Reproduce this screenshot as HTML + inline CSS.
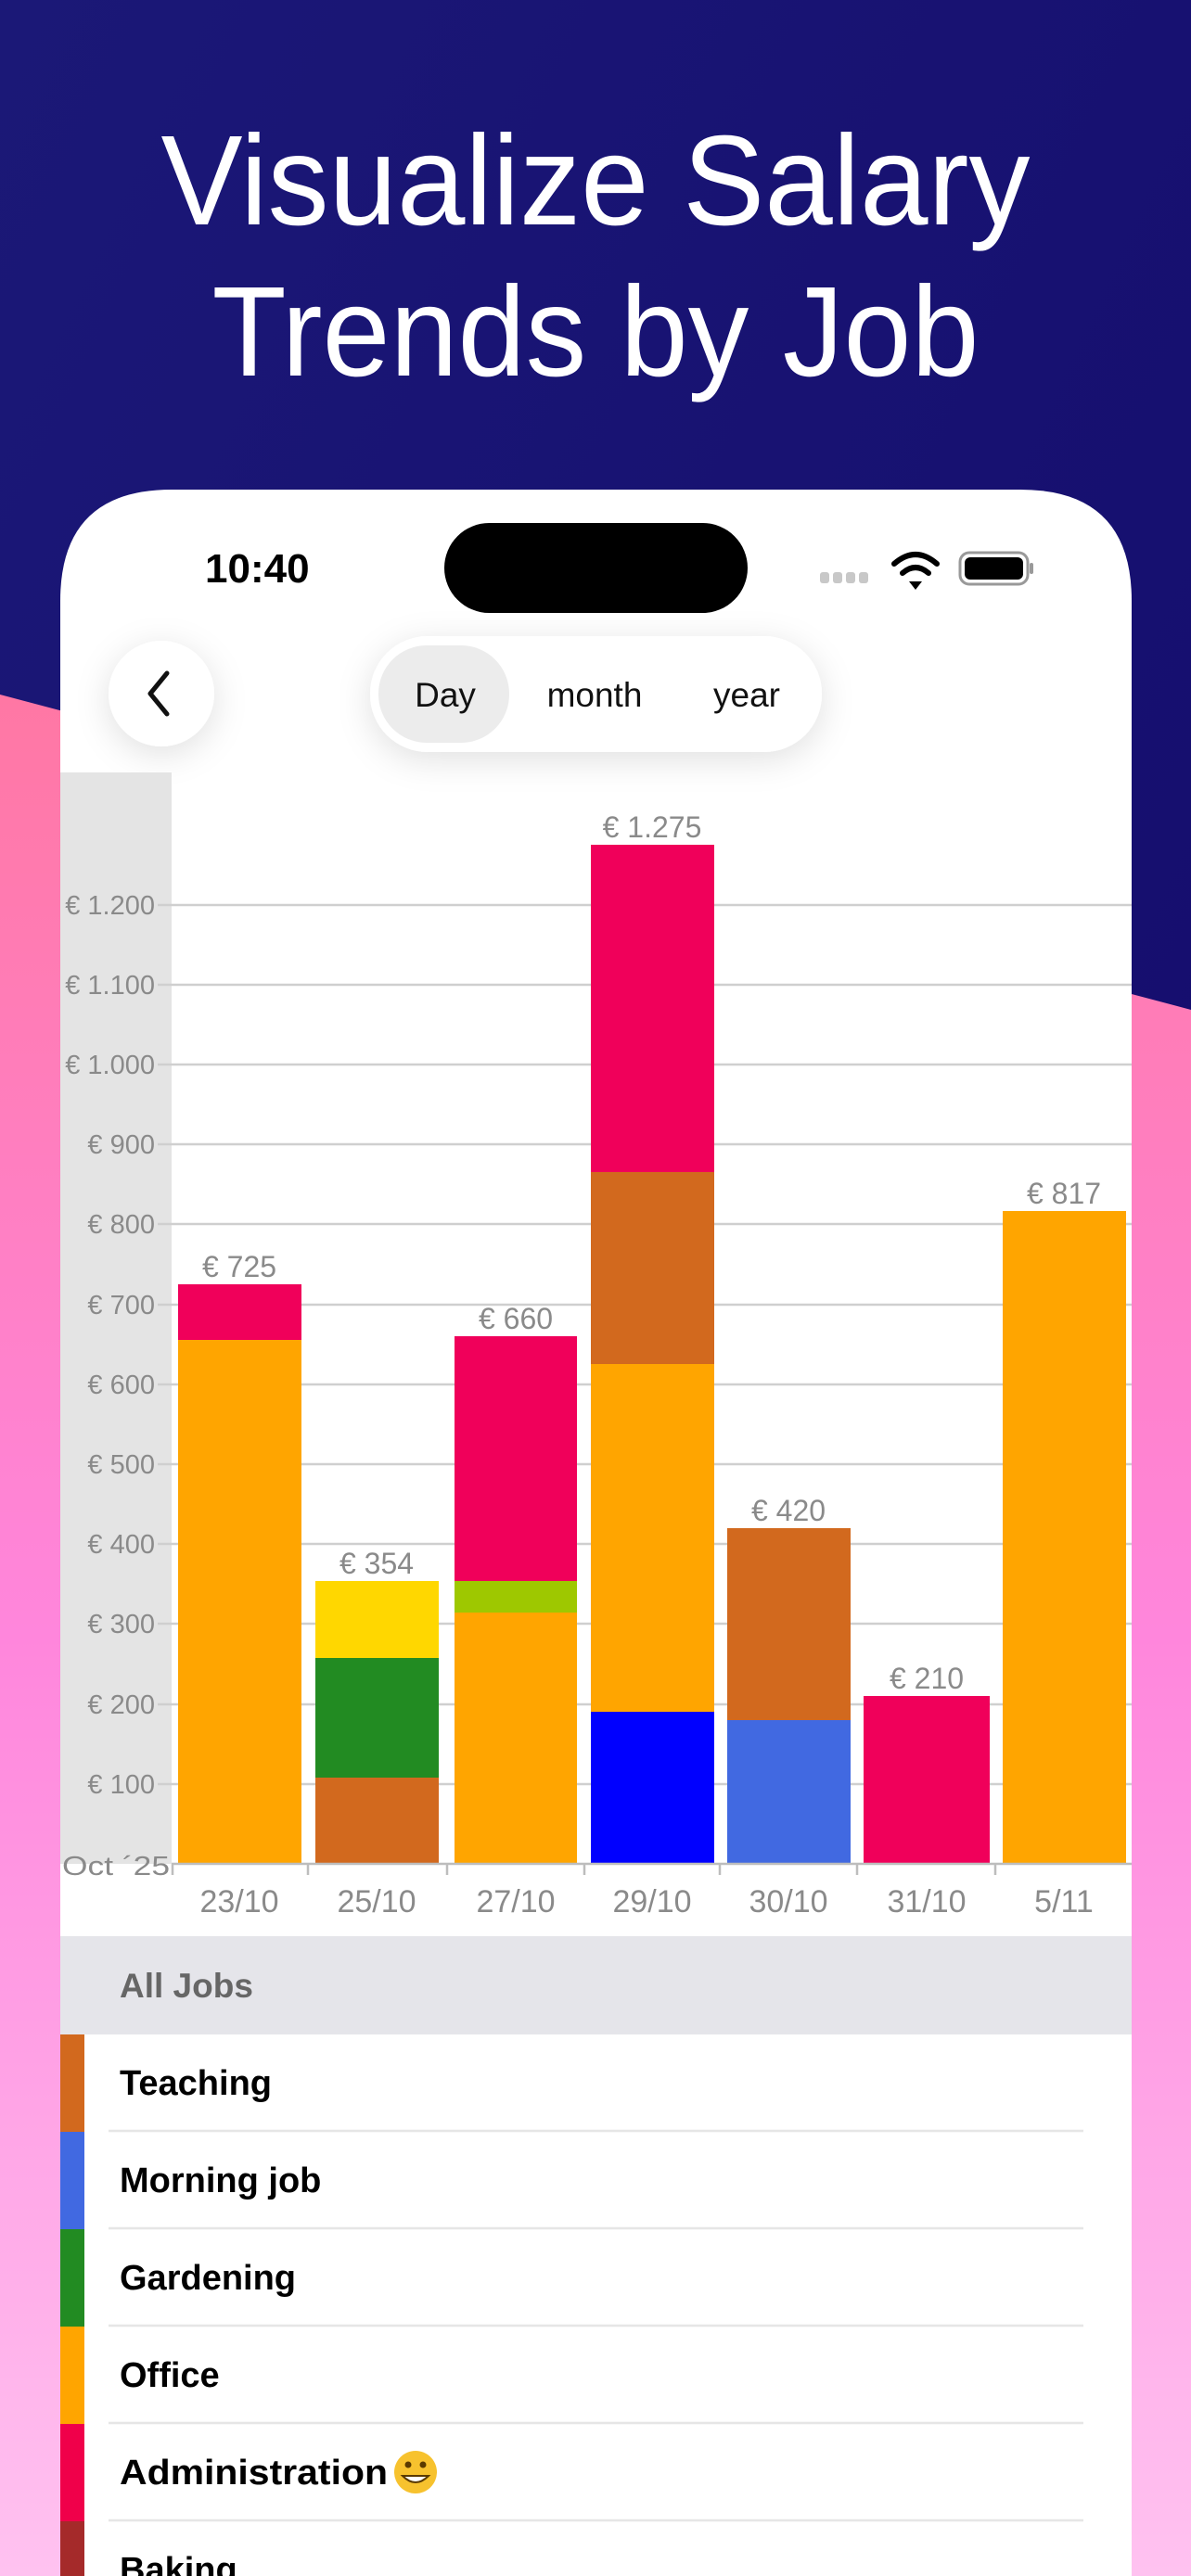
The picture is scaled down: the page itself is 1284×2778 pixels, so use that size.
<!DOCTYPE html>
<html><head><meta charset="utf-8">
<style>
html,body{margin:0;padding:0;width:1284px;height:2778px;overflow:hidden;}
svg{display:block;font-family:"Liberation Sans",sans-serif;}
</style></head>
<body>
<svg width="1284" height="2778" viewBox="0 0 1284 2778" xmlns="http://www.w3.org/2000/svg">
<defs>
<linearGradient id="navy" x1="0" y1="0" x2="1" y2="1"><stop offset="0" stop-color="#1b1877"/><stop offset="1" stop-color="#130a6b"/></linearGradient>
<linearGradient id="pink" x1="0" y1="0" x2="0" y2="1"><stop offset="0" stop-color="#ff77a4"/><stop offset="0.5" stop-color="#ff86dc"/><stop offset="1" stop-color="#ffc2f0"/></linearGradient>
<filter id="sh" x="-50%" y="-50%" width="200%" height="200%"><feDropShadow dx="0" dy="8" stdDeviation="18" flood-color="#000" flood-opacity="0.12"/></filter>
</defs>
<rect width="1284" height="2778" fill="url(#navy)"/>
<polygon points="0,749 1284,1089 1284,2778 0,2778" fill="url(#pink)"/>
<text x="642" y="242" fill="#fff" font-size="138" text-anchor="middle" textLength="937" lengthAdjust="spacingAndGlyphs">Visualize Salary</text>
<text x="642" y="405" fill="#fff" font-size="138" text-anchor="middle" textLength="827" lengthAdjust="spacingAndGlyphs">Trends by Job</text>

<path d="M65,2778 V648 Q65,528 185,528 H1100 Q1220,528 1220,648 V2778 Z" fill="#fff"/>
<text x="221" y="628" font-size="44" font-weight="bold" fill="#000">10:40</text>
<rect x="479" y="564" width="327" height="97" rx="48.5" fill="#000"/>
<g fill="#c8c8c8"><rect x="884" y="617" width="10" height="12" rx="3"/><rect x="898" y="617" width="10" height="12" rx="3"/><rect x="912" y="617" width="10" height="12" rx="3"/><rect x="926" y="617" width="10" height="12" rx="3"/></g>
<g fill="none" stroke="#000" stroke-width="6" stroke-linecap="round">
<path d="M964,608 Q987,588 1010,608"/><path d="M973,618 Q987,606 1001,618"/></g>
<path d="M980,627 L987,636 L994,627 Z" fill="#000"/>
<rect x="1035" y="596" width="73" height="34" rx="10" fill="none" stroke="#999" stroke-width="3"/>
<rect x="1040" y="601" width="63" height="24" rx="6" fill="#000"/>
<rect x="1110" y="607" width="4" height="12" rx="2" fill="#999"/>

<circle cx="174" cy="748" r="57" fill="#fff" filter="url(#sh)"/>
<path d="M180,726 L162,748 L180,770" fill="none" stroke="#111" stroke-width="5" stroke-linecap="round" stroke-linejoin="round"/>
<rect x="399" y="686" width="487" height="125" rx="62" fill="#fff" filter="url(#sh)"/>
<rect x="408" y="696" width="141" height="105" rx="52" fill="#ececec"/>
<g font-size="37" fill="#111" text-anchor="middle"><text x="480" y="762">Day</text><text x="641" y="762">month</text><text x="805" y="762">year</text></g>

<rect x="65" y="833" width="120" height="1177" fill="#e4e4e4"/>
<g stroke="#cfcfcf" stroke-width="2.5">
<line x1="170" x2="1220" y1="976" y2="976"/><line x1="170" x2="1220" y1="1062" y2="1062"/><line x1="170" x2="1220" y1="1148" y2="1148"/><line x1="170" x2="1220" y1="1234" y2="1234"/><line x1="170" x2="1220" y1="1320" y2="1320"/><line x1="170" x2="1220" y1="1407" y2="1407"/><line x1="170" x2="1220" y1="1493" y2="1493"/><line x1="170" x2="1220" y1="1579" y2="1579"/><line x1="170" x2="1220" y1="1665" y2="1665"/><line x1="170" x2="1220" y1="1751" y2="1751"/><line x1="170" x2="1220" y1="1838" y2="1838"/><line x1="170" x2="1220" y1="1924" y2="1924"/>
</g>
<g font-size="29" fill="#8a8a8a" text-anchor="end">
<text x="167" y="986">€ 1.200</text><text x="167" y="1072">€ 1.100</text><text x="167" y="1158">€ 1.000</text><text x="167" y="1244">€ 900</text><text x="167" y="1330">€ 800</text><text x="167" y="1417">€ 700</text><text x="167" y="1503">€ 600</text><text x="167" y="1589">€ 500</text><text x="167" y="1675">€ 400</text><text x="167" y="1761">€ 300</text><text x="167" y="1848">€ 200</text><text x="167" y="1934">€ 100</text>
<text x="183" y="2022" textLength="116" lengthAdjust="spacingAndGlyphs">Oct ´25</text>
</g>
<rect x="192" y="1445" width="133" height="565" fill="#ffa500"/><rect x="192" y="1385" width="133" height="60" fill="#f0005a"/>
<rect x="340" y="1917" width="133" height="93" fill="#d2691e"/><rect x="340" y="1788" width="133" height="129" fill="#228b22"/><rect x="340" y="1705" width="133" height="83" fill="#ffd700"/>
<rect x="490" y="1739" width="132" height="271" fill="#ffa500"/><rect x="490" y="1705" width="132" height="34" fill="#9ec800"/><rect x="490" y="1441" width="132" height="264" fill="#f0005a"/>
<rect x="637" y="1846" width="133" height="164" fill="#0000ff"/><rect x="637" y="1471" width="133" height="375" fill="#ffa500"/><rect x="637" y="1264" width="133" height="207" fill="#d2691e"/><rect x="637" y="911" width="133" height="353" fill="#f0005a"/>
<rect x="784" y="1855" width="133" height="155" fill="#4169e1"/><rect x="784" y="1648" width="133" height="207" fill="#d2691e"/>
<rect x="931" y="1829" width="136" height="181" fill="#f0005a"/>
<rect x="1081" y="1306" width="133" height="704" fill="#ffa500"/>
<g font-size="32" fill="#8a8a8a" text-anchor="middle">
<text x="258" y="1377">€ 725</text><text x="406" y="1697">€ 354</text><text x="556" y="1433">€ 660</text><text x="703" y="903">€ 1.275</text><text x="850" y="1640">€ 420</text><text x="999" y="1821">€ 210</text><text x="1147" y="1298">€ 817</text>
</g>
<line x1="185" x2="1220" y1="2010" y2="2010" stroke="#bdbdbd" stroke-width="2.5"/>
<g stroke="#bdbdbd" stroke-width="2.5"><line x1="186" x2="186" y1="2010" y2="2022"/><line x1="332" x2="332" y1="2010" y2="2022"/><line x1="482" x2="482" y1="2010" y2="2022"/><line x1="630" x2="630" y1="2010" y2="2022"/><line x1="776" x2="776" y1="2010" y2="2022"/><line x1="924" x2="924" y1="2010" y2="2022"/><line x1="1073" x2="1073" y1="2010" y2="2022"/></g>
<g font-size="34" fill="#8a8a8a" text-anchor="middle">
<text x="258" y="2062">23/10</text><text x="406" y="2062">25/10</text><text x="556" y="2062">27/10</text><text x="703" y="2062">29/10</text><text x="850" y="2062">30/10</text><text x="999" y="2062">31/10</text><text x="1147" y="2062">5/11</text>
</g>

<rect x="65" y="2088" width="1155" height="106" fill="#e5e5ea"/>
<text x="129" y="2154" font-size="37" font-weight="bold" fill="#666">All Jobs</text>
<rect x="65" y="2194" width="26" height="105" fill="#d2691e"/>
<rect x="65" y="2299" width="26" height="105" fill="#4169e1"/>
<rect x="65" y="2404" width="26" height="105" fill="#228b22"/>
<rect x="65" y="2509" width="26" height="105" fill="#ffa500"/>
<rect x="65" y="2614" width="26" height="105" fill="#f0004a"/>
<rect x="65" y="2719" width="26" height="59" fill="#a52a2a"/>
<g stroke="#e6e6e6" stroke-width="2.5"><line x1="117" x2="1168" y1="2298" y2="2298"/><line x1="117" x2="1168" y1="2403" y2="2403"/><line x1="117" x2="1168" y1="2508" y2="2508"/><line x1="117" x2="1168" y1="2613" y2="2613"/><line x1="117" x2="1168" y1="2718" y2="2718"/></g>
<g font-size="38" font-weight="bold" fill="#000">
<text x="129" y="2259">Teaching</text><text x="129" y="2364">Morning job</text><text x="129" y="2469">Gardening</text><text x="129" y="2574">Office</text><text x="129" y="2679" textLength="289" lengthAdjust="spacingAndGlyphs">Administration</text><text x="129" y="2784">Baking</text>
</g>
<circle cx="448" cy="2666" r="23" fill="#f7c22e"/>
<circle cx="440" cy="2658" r="3.5" fill="#5a3a00"/><circle cx="456" cy="2658" r="3.5" fill="#5a3a00"/>
<path d="M434,2670 Q448,2684 462,2670 Z" fill="#fff" stroke="#5a3a00" stroke-width="2"/>
</svg>
</body></html>
